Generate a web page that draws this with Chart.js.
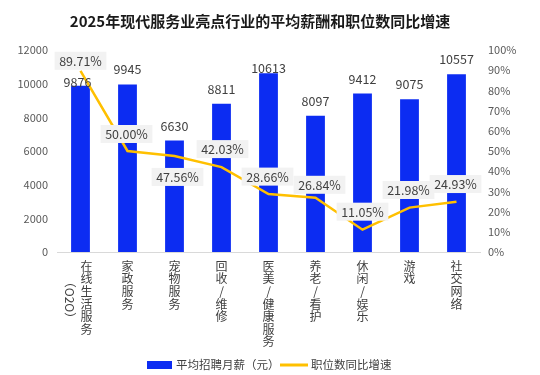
<!DOCTYPE html>
<html>
<head>
<meta charset="utf-8">
<script src="https://cdn.jsdelivr.net/npm/chart.js@4.4.1/dist/chart.umd.min.js"></script>
<style>
html,body{margin:0;padding:0;background:#fff;}
#wrap{width:540px;height:375px;position:relative;}
</style>
</head>
<body>
<div id="wrap"><canvas id="c" width="540" height="375"></canvas></div>
<script>
const title = '2025年现代服务业亮点行业的平均薪酬和职位数同比增速';
const categories = ['在线生活服务（O2O）','家政服务','宠物服务','回收/维修','医美/健康服务','养老/看护','休闲/娱乐','游戏','社交网络'];
const salary = [9876, 9945, 6630, 8811, 10613, 8097, 9412, 9075, 10557];
const growth = [89.71, 50.00, 47.56, 42.03, 28.66, 26.84, 11.05, 21.98, 24.93];
const seriesNames = ['平均招聘月薪（元）', '职位数同比增速'];
const leftTicks = {min: 0, max: 12000, step: 2000};
const rightTicks = {min: 0, max: 100, step: 10};

// label placement style (pixels relative to marks)
const barLabelDy = [-4, -15, -14, -14, -5, -14, -14, -15, -15];
const barLabelDx = [-3, 0, 0, 0, 0, 0, 0, 0, 0];
const lineLabelDy = [-10, -17, 21, -18, -17.5, -13, -18, -17.6, -17.6];
const lineLabelDx = [0, -1, 3, 1, -1, 4, 0, -1, -1];

const FONT = '"Noto Sans CJK SC", "Noto Sans", sans-serif';
const BLUE = '#0c2cf2';
const GOLD = '#FFC000';

function splitMain(s){
  const i = s.indexOf('（');
  return i >= 0 ? s.slice(0, i) : s;
}
function splitExtra(s){
  const i = s.indexOf('（');
  return i >= 0 ? s.slice(i) : '';
}

const decor = {
  id: 'decor',
  afterDatasetsDraw(chart){
    const ctx = chart.ctx;
    const m0 = chart.getDatasetMeta(0);
    const m1 = chart.getDatasetMeta(1);
    ctx.save();
    ctx.font = '12.5px ' + FONT;
    ctx.textAlign = 'center';
    ctx.textBaseline = 'middle';
    m0.data.forEach((el, i) => {
      ctx.fillStyle = '#404040';
      ctx.fillText(String(salary[i]), el.x + barLabelDx[i], el.y + barLabelDy[i]);
    });
    m1.data.forEach((el, i) => {
      const t = growth[i].toFixed(2) + '%';
      const w = ctx.measureText(t).width + 9;
      const h = 18;
      const cx = el.x + lineLabelDx[i], cy = el.y + lineLabelDy[i];
      ctx.fillStyle = '#f2f2f2';
      ctx.fillRect(cx - w/2, cy - h/2, w, h);
      ctx.fillStyle = '#404040';
      ctx.fillText(t, cx, cy + 0.5);
    });
    ctx.restore();
  },
  afterDraw(chart){
    const ctx = chart.ctx;
    ctx.save();
    ctx.font = 'bold 15px ' + FONT;
    ctx.fillStyle = '#1a1a1a';
    ctx.textAlign = 'center';
    ctx.textBaseline = 'middle';
    ctx.fillText(title, 260, 21);
    const xs = chart.scales.x;
    categories.forEach((c, i) => {
      const ex = splitExtra(c);
      if (!ex) return;
      const px = xs.getPixelForValue(i);
      ctx.save();
      ctx.translate(px - 11, 300);
      ctx.rotate(Math.PI / 2);
      ctx.font = '12px ' + FONT;
      ctx.fillStyle = '#404040';
      ctx.textAlign = 'center';
      ctx.textBaseline = 'middle';
      ctx.fillText(ex, 0, 0);
      ctx.restore();
    });
    const ly = 365;
    ctx.fillStyle = BLUE;
    ctx.fillRect(147, ly - 4, 25, 8);
    ctx.font = '11.5px ' + FONT;
    ctx.fillStyle = '#404040';
    ctx.textAlign = 'left';
    ctx.fillText(seriesNames[0], 176, ly);
    ctx.strokeStyle = GOLD;
    ctx.lineWidth = 3;
    ctx.beginPath();
    ctx.moveTo(280, ly);
    ctx.lineTo(308, ly);
    ctx.stroke();
    ctx.fillText(seriesNames[1], 311, ly);
    ctx.restore();
  }
};

new Chart(document.getElementById('c'), {
  data: {
    labels: categories,
    datasets: [
      {
        type: 'bar', label: seriesNames[0], data: salary, yAxisID: 'y',
        backgroundColor: BLUE, borderWidth: 0,
        barPercentage: 0.4, categoryPercentage: 1.0, order: 2
      },
      {
        type: 'line', label: seriesNames[1], data: growth, yAxisID: 'y1',
        borderColor: GOLD, borderWidth: 2.5, pointRadius: 0, tension: 0,
        fill: false, order: 1
      }
    ]
  },
  options: {
    responsive: false,
    animation: false,
    devicePixelRatio: 1,
    layout: {padding: {top: 50, left: 0, right: 0, bottom: 0}},
    plugins: {legend: {display: false}, title: {display: false}, tooltip: {enabled: false}},
    scales: {
      x: {
        grid: {display: false, drawTicks: false},
        border: {display: true, color: '#d9d9d9', width: 1},
        ticks: {
          padding: 8, maxRotation: 0, minRotation: 0, autoSkip: false,
          color: '#404040',
          font: {family: FONT, size: 12, lineHeight: 1.05},
          callback: function(v, i){
            const c = categories[i];
            const chars = Array.from(splitMain(c));
            // categories with a rotated second column get their first column nudged right
            return splitExtra(c) ? chars.map(ch => '\u3000' + ch) : chars;
          }
        },
        afterFit(s){ s.height = 123; }
      },
      y: {
        position: 'left', min: leftTicks.min, max: leftTicks.max,
        grid: {display: false, drawTicks: false},
        border: {display: false},
        ticks: {stepSize: leftTicks.step, padding: 9, color: '#595959', font: {family: FONT, size: 11},
          callback: v => String(v)},
        afterFit(s){ s.width = 57; }
      },
      y1: {
        position: 'right', min: rightTicks.min, max: rightTicks.max,
        grid: {display: false, drawTicks: false},
        border: {display: false},
        ticks: {stepSize: rightTicks.step, padding: 8, color: '#595959', font: {family: FONT, size: 11},
          callback: v => v + '%'},
        afterFit(s){ s.width = 60; }
      }
    }
  },
  plugins: [decor]
});
</script>
</body>
</html>
